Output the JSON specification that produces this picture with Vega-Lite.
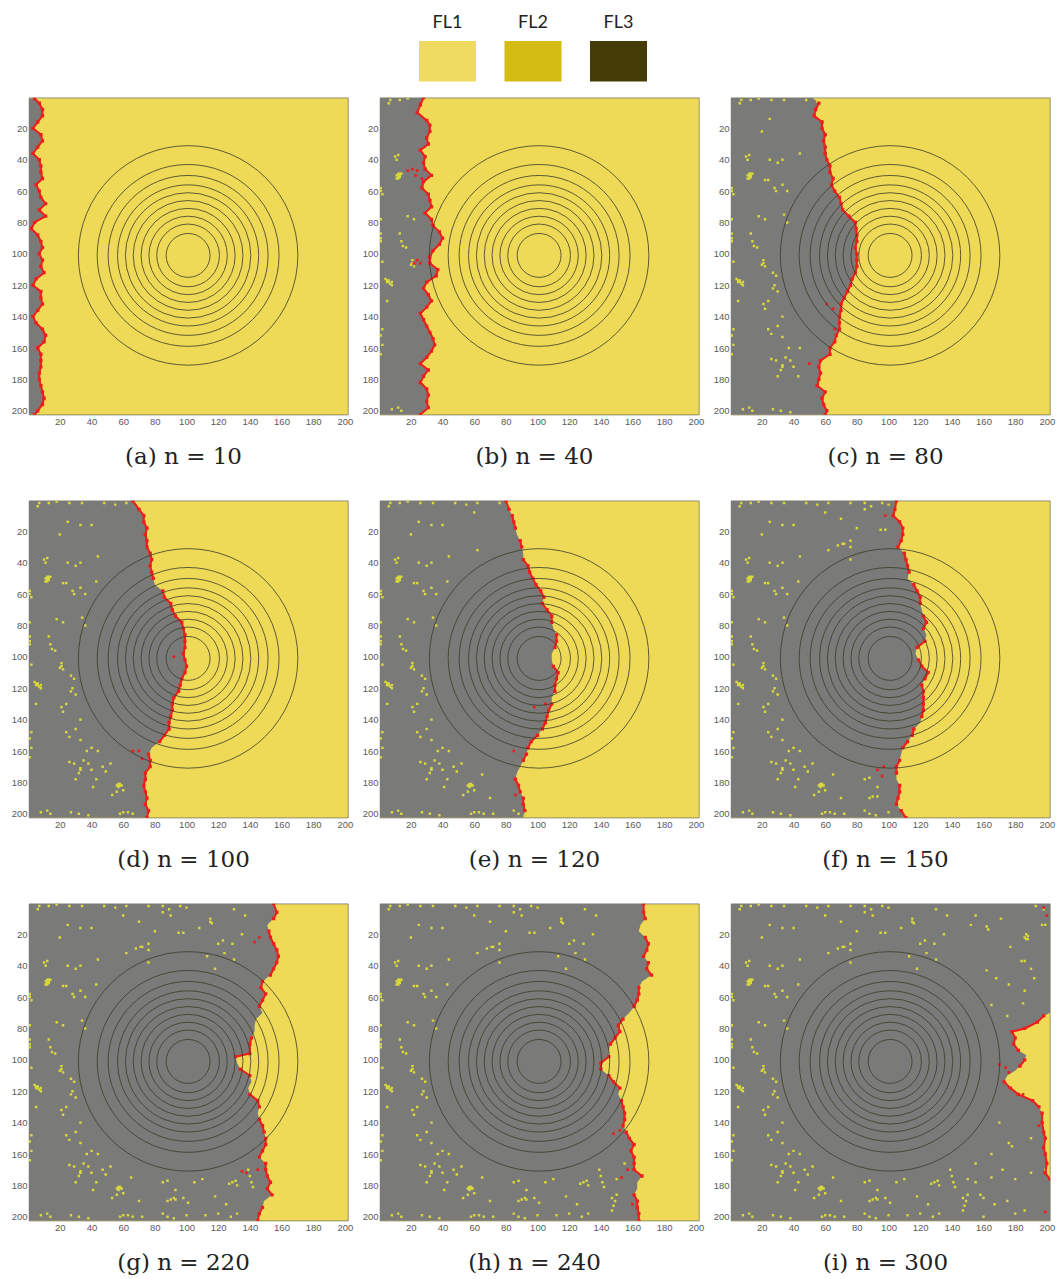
{"$schema":"https://vega.github.io/schema/vega-lite/v6.json","padding":{"left":10,"top":13,"right":0,"bottom":0},"background":"white","config":{"view":{"fill":"#EFDA58","stroke":"#6b6b5a","strokeWidth":0.7},"axis":{"grid":false,"ticks":false,"domain":false,"labelFont":"Liberation Sans","labelFontSize":9.5,"labelColor":"#5a5a5a","labelPadding":2,"titleFont":"DejaVu Serif","titleFontSize":23,"titleFontWeight":"normal","titleColor":"#222222"}},"datasets":{"rings":[{"x":101,"y":101,"r":70},{"x":101,"y":101,"r":58},{"x":101,"y":101,"r":51},{"x":101,"y":101,"r":45},{"x":101,"y":101,"r":40},{"x":101,"y":101,"r":35},{"x":101,"y":101,"r":30},{"x":101,"y":101,"r":25},{"x":101,"y":101,"r":20},{"x":101,"y":101,"r":14}],
"fa":[{"y":1,"x":4,"s":1},{"y":4,"x":7,"s":1},{"y":8,"x":9,"s":1},{"y":12,"x":9,"s":1},{"y":16,"x":6,"s":1},{"y":20,"x":3,"s":1},{"y":24,"x":8,"s":1},{"y":28,"x":9,"s":1},{"y":32,"x":6,"s":1},{"y":36,"x":3,"s":1},{"y":40,"x":7,"s":1},{"y":44,"x":8,"s":1},{"y":48,"x":8,"s":1},{"y":52,"x":9,"s":1},{"y":56,"x":5,"s":1},{"y":60,"x":7,"s":1},{"y":64,"x":8,"s":1},{"y":68,"x":11,"s":1},{"y":72,"x":7,"s":1},{"y":76,"x":11,"s":1},{"y":80,"x":4,"s":1},{"y":84,"x":2,"s":1},{"y":88,"x":6,"s":1},{"y":92,"x":8,"s":1},{"y":96,"x":9,"s":1},{"y":100,"x":7,"s":1},{"y":104,"x":9,"s":1},{"y":108,"x":8,"s":1},{"y":112,"x":10,"s":1},{"y":116,"x":5,"s":1},{"y":120,"x":3,"s":1},{"y":124,"x":8,"s":1},{"y":128,"x":8,"s":1},{"y":132,"x":9,"s":1},{"y":136,"x":6,"s":1},{"y":140,"x":3,"s":1},{"y":144,"x":5,"s":1},{"y":148,"x":9,"s":1},{"y":152,"x":11,"s":1},{"y":156,"x":10,"s":1},{"y":160,"x":6,"s":1},{"y":164,"x":8,"s":1},{"y":168,"x":8,"s":1},{"y":172,"x":8,"s":1},{"y":176,"x":7,"s":1},{"y":180,"x":7,"s":1},{"y":184,"x":8,"s":1},{"y":188,"x":9,"s":1},{"y":192,"x":10,"s":1},{"y":196,"x":9,"s":1},{"y":200,"x":6,"s":1},{"y":202.5,"x":4,"s":1}],
"fb":[{"y":0.5,"x":28,"s":1},{"y":5,"x":26,"s":1},{"y":10,"x":24,"s":1},{"y":15,"x":30,"s":1},{"y":18,"x":32,"s":1},{"y":22,"x":32,"s":1},{"y":26,"x":30,"s":1},{"y":30,"x":31,"s":1},{"y":34,"x":26,"s":1},{"y":38,"x":29,"s":1},{"y":42,"x":28,"s":1},{"y":46,"x":29,"s":1},{"y":50,"x":33,"s":1},{"y":54,"x":28,"s":1},{"y":58,"x":27,"s":1},{"y":62,"x":31,"s":1},{"y":66,"x":32,"s":1},{"y":70,"x":33,"s":1},{"y":74,"x":29,"s":1},{"y":78,"x":33,"s":1},{"y":82,"x":34,"s":1},{"y":86,"x":38,"s":1},{"y":90,"x":40,"s":1},{"y":94,"x":38,"s":1},{"y":98,"x":34,"s":1},{"y":102,"x":32,"s":1},{"y":106,"x":32,"s":1},{"y":110,"x":37,"s":1},{"y":114,"x":36,"s":1},{"y":118,"x":30,"s":1},{"y":122,"x":28,"s":1},{"y":126,"x":31,"s":1},{"y":130,"x":33,"s":1},{"y":134,"x":30,"s":1},{"y":138,"x":26,"s":1},{"y":142,"x":28,"s":1},{"y":146,"x":30,"s":1},{"y":150,"x":32,"s":1},{"y":154,"x":34,"s":1},{"y":158,"x":35,"s":1},{"y":162,"x":33,"s":1},{"y":166,"x":30,"s":1},{"y":170,"x":26,"s":1},{"y":174,"x":31,"s":1},{"y":178,"x":28,"s":1},{"y":182,"x":26,"s":1},{"y":186,"x":30,"s":1},{"y":190,"x":31,"s":1},{"y":194,"x":30,"s":1},{"y":198,"x":31,"s":1},{"y":202.5,"x":26,"s":1}],
"fc":[{"y":0.5,"x":52},{"y":4,"x":56,"s":1},{"y":8,"x":54,"s":1},{"y":12,"x":53,"s":1},{"y":16,"x":58,"s":1},{"y":20,"x":58,"s":1},{"y":24,"x":60,"s":1},{"y":28,"x":59,"s":1},{"y":32,"x":60,"s":1},{"y":36,"x":60,"s":1},{"y":40,"x":61,"s":1},{"y":44,"x":63,"s":1},{"y":48,"x":63,"s":1},{"y":52,"x":65,"s":1},{"y":56,"x":64,"s":1},{"y":60,"x":66,"s":1},{"y":64,"x":69,"s":1},{"y":68,"x":70,"s":1},{"y":72,"x":71,"s":1},{"y":76,"x":75,"s":1},{"y":80,"x":79,"s":1},{"y":84,"x":79.5,"s":1},{"y":88,"x":80,"s":1},{"y":92,"x":80,"s":1},{"y":96,"x":79,"s":1},{"y":100,"x":80,"s":1},{"y":104,"x":80,"s":1},{"y":108,"x":80,"s":1},{"y":112,"x":79,"s":1},{"y":116,"x":77,"s":1},{"y":120,"x":76,"s":1},{"y":124,"x":74,"s":1},{"y":128,"x":72,"s":1},{"y":132,"x":70,"s":1},{"y":136,"x":70,"s":1},{"y":140,"x":69,"s":1},{"y":144,"x":69,"s":1},{"y":148,"x":69,"s":1},{"y":152,"x":67,"s":1},{"y":156,"x":66,"s":1},{"y":160,"x":63,"s":1},{"y":164,"x":63,"s":1},{"y":168,"x":57,"s":1},{"y":172,"x":56,"s":1},{"y":176,"x":57,"s":1},{"y":180,"x":56,"s":1},{"y":184,"x":55,"s":1},{"y":188,"x":60,"s":1},{"y":192,"x":58,"s":1},{"y":196,"x":59,"s":1},{"y":200,"x":61,"s":1},{"y":202.5,"x":60,"s":1}],
"fd":[{"y":0.5,"x":66,"s":1},{"y":6,"x":70,"s":1},{"y":10,"x":73,"s":1},{"y":14,"x":73,"s":1},{"y":18,"x":75,"s":1},{"y":22,"x":74,"s":1},{"y":26,"x":75,"s":1},{"y":30,"x":75,"s":1},{"y":34,"x":77,"s":1},{"y":38,"x":78,"s":1},{"y":42,"x":77,"s":1},{"y":46,"x":78,"s":1},{"y":50,"x":79,"s":1},{"y":54,"x":80},{"y":58,"x":85,"s":2},{"y":62,"x":86,"s":2},{"y":66,"x":90,"s":2},{"y":70,"x":91,"s":2},{"y":74,"x":93,"s":2},{"y":78,"x":97,"s":2},{"y":82,"x":98,"s":2},{"y":86,"x":99,"s":2},{"y":90,"x":99,"s":2},{"y":94,"x":99,"s":2},{"y":98,"x":98,"s":2},{"y":102,"x":99,"s":2},{"y":106,"x":100,"s":2},{"y":110,"x":99,"s":2},{"y":114,"x":97,"s":2},{"y":118,"x":96,"s":2},{"y":122,"x":95,"s":2},{"y":126,"x":92,"s":2},{"y":130,"x":91,"s":2},{"y":134,"x":91,"s":2},{"y":138,"x":90,"s":2},{"y":142,"x":89,"s":2},{"y":146,"x":89,"s":2},{"y":150,"x":86,"s":2},{"y":154,"x":83,"s":2},{"y":158,"x":78},{"y":162,"x":76,"s":3},{"y":166,"x":77,"s":3},{"y":170,"x":77,"s":3},{"y":174,"x":74,"s":3},{"y":178,"x":74,"s":3},{"y":182,"x":73,"s":3},{"y":186,"x":74,"s":3},{"y":190,"x":75,"s":3},{"y":194,"x":74,"s":3},{"y":198,"x":76,"s":3},{"y":202.5,"x":75,"s":3}],
"fe":[{"y":0.5,"x":80,"s":1},{"y":6,"x":82,"s":1},{"y":10,"x":84,"s":2},{"y":14,"x":85,"s":2},{"y":18,"x":86,"s":2},{"y":22,"x":87},{"y":26,"x":89,"s":3},{"y":30,"x":90,"s":3},{"y":34,"x":91},{"y":38,"x":91,"s":4},{"y":42,"x":94,"s":4},{"y":46,"x":95,"s":4},{"y":50,"x":97,"s":4},{"y":54,"x":99,"s":4},{"y":58,"x":102,"s":4},{"y":62,"x":104,"s":4},{"y":66,"x":103,"s":5},{"y":70,"x":106,"s":5},{"y":74,"x":109,"s":5},{"y":78,"x":109,"s":5},{"y":82,"x":110},{"y":86,"x":112,"s":6},{"y":90,"x":112,"s":6},{"y":94,"x":111,"s":6},{"y":98,"x":109},{"y":102,"x":109},{"y":106,"x":110,"s":7},{"y":110,"x":113,"s":7},{"y":114,"x":112,"s":7},{"y":118,"x":111,"s":7},{"y":122,"x":111,"s":7},{"y":126,"x":109},{"y":130,"x":109,"s":8},{"y":134,"x":107,"s":8},{"y":138,"x":106,"s":8},{"y":142,"x":105,"s":8},{"y":146,"x":103,"s":8},{"y":150,"x":100,"s":9},{"y":154,"x":96,"s":9},{"y":158,"x":94,"s":9},{"y":162,"x":93,"s":10},{"y":166,"x":91,"s":10},{"y":170,"x":89},{"y":174,"x":87},{"y":178,"x":86,"s":11},{"y":182,"x":88,"s":11},{"y":186,"x":89,"s":11},{"y":190,"x":91,"s":12},{"y":194,"x":91,"s":12},{"y":198,"x":92,"s":12},{"y":202.5,"x":91}],
"ff":[{"y":0.5,"x":105,"s":1},{"y":6,"x":104,"s":1},{"y":10,"x":103,"s":1},{"y":14,"x":107,"s":1},{"y":18,"x":109,"s":1},{"y":22,"x":109,"s":1},{"y":26,"x":108,"s":1},{"y":30,"x":106,"s":1},{"y":34,"x":110,"s":2},{"y":38,"x":111,"s":2},{"y":42,"x":112,"s":2},{"y":46,"x":113,"s":2},{"y":50,"x":112},{"y":54,"x":116,"s":3},{"y":58,"x":118,"s":3},{"y":62,"x":120,"s":3},{"y":66,"x":120,"s":3},{"y":70,"x":121},{"y":74,"x":122,"s":4},{"y":78,"x":124,"s":4},{"y":82,"x":122,"s":4},{"y":86,"x":124},{"y":90,"x":123,"s":5},{"y":94,"x":118,"s":5},{"y":98,"x":117},{"y":102,"x":119,"s":6},{"y":106,"x":121,"s":6},{"y":110,"x":125,"s":6},{"y":114,"x":123,"s":6},{"y":118,"x":121,"s":7},{"y":122,"x":122,"s":7},{"y":126,"x":122,"s":7},{"y":130,"x":122,"s":7},{"y":134,"x":122,"s":7},{"y":138,"x":121,"s":7},{"y":142,"x":120},{"y":146,"x":116,"s":8},{"y":150,"x":115,"s":8},{"y":154,"x":112,"s":9},{"y":158,"x":109,"s":9},{"y":162,"x":108},{"y":166,"x":107,"s":10},{"y":170,"x":105,"s":10},{"y":174,"x":105,"s":10},{"y":178,"x":105},{"y":182,"x":107,"s":11},{"y":186,"x":107,"s":11},{"y":190,"x":106,"s":11},{"y":194,"x":105,"s":11},{"y":198,"x":108,"s":12},{"y":202.5,"x":111,"s":12}],
"fg":[{"y":0.5,"x":155,"s":1},{"y":6,"x":157,"s":1},{"y":10,"x":155,"s":1},{"y":14,"x":151},{"y":18,"x":152,"s":2},{"y":22,"x":153,"s":2},{"y":26,"x":155,"s":2},{"y":30,"x":157,"s":2},{"y":34,"x":158,"s":2},{"y":38,"x":157,"s":2},{"y":42,"x":155,"s":2},{"y":46,"x":153,"s":2},{"y":50,"x":148,"s":3},{"y":54,"x":147,"s":3},{"y":58,"x":150,"s":3},{"y":62,"x":148,"s":3},{"y":66,"x":146,"s":3},{"y":70,"x":148},{"y":74,"x":144},{"y":78,"x":143},{"y":82,"x":143},{"y":86,"x":141,"s":4},{"y":90,"x":140,"s":4},{"y":96,"x":140,"s":4},{"y":98,"x":131,"s":4},{"y":102,"x":132},{"y":106,"x":134,"s":5},{"y":110,"x":140,"s":5},{"y":114,"x":141},{"y":118,"x":139},{"y":122,"x":140,"s":6},{"y":126,"x":145,"s":6},{"y":130,"x":146,"s":6},{"y":134,"x":145},{"y":138,"x":146,"s":7},{"y":142,"x":148,"s":7},{"y":146,"x":149,"s":7},{"y":150,"x":150,"s":8},{"y":154,"x":150,"s":8},{"y":158,"x":148,"s":8},{"y":162,"x":146,"s":8},{"y":166,"x":150,"s":9},{"y":170,"x":150,"s":9},{"y":174,"x":151,"s":9},{"y":178,"x":153,"s":9},{"y":182,"x":151,"s":9},{"y":186,"x":154,"s":9},{"y":190,"x":149},{"y":194,"x":148,"s":10},{"y":198,"x":146,"s":10},{"y":202.5,"x":145,"s":10}],
"fh":[{"y":0.5,"x":167,"s":1},{"y":6,"x":167,"s":1},{"y":10,"x":168,"s":1},{"y":14,"x":165},{"y":18,"x":164},{"y":22,"x":168,"s":2},{"y":26,"x":170,"s":2},{"y":30,"x":169,"s":2},{"y":34,"x":167,"s":2},{"y":38,"x":170,"s":3},{"y":42,"x":169,"s":3},{"y":46,"x":172,"s":3},{"y":50,"x":166},{"y":54,"x":164,"s":4},{"y":58,"x":164,"s":4},{"y":62,"x":163,"s":4},{"y":66,"x":161,"s":4},{"y":70,"x":158},{"y":74,"x":154,"s":5},{"y":78,"x":151,"s":5},{"y":82,"x":152,"s":5},{"y":86,"x":149,"s":5},{"y":90,"x":146,"s":5},{"y":94,"x":145},{"y":98,"x":145,"s":6},{"y":102,"x":140,"s":6},{"y":106,"x":140,"s":6},{"y":110,"x":145,"s":7},{"y":114,"x":148,"s":7},{"y":118,"x":152,"s":7},{"y":122,"x":151},{"y":126,"x":153,"s":8},{"y":130,"x":154,"s":8},{"y":134,"x":155,"s":8},{"y":138,"x":155,"s":8},{"y":142,"x":154,"s":8},{"y":146,"x":156,"s":9},{"y":150,"x":158,"s":9},{"y":154,"x":161,"s":9},{"y":158,"x":159,"s":9},{"y":162,"x":161,"s":9},{"y":166,"x":161,"s":9},{"y":170,"x":161,"s":9},{"y":174,"x":166,"s":9},{"y":178,"x":163},{"y":182,"x":163},{"y":186,"x":161,"s":10},{"y":190,"x":163,"s":10},{"y":194,"x":163,"s":10},{"y":198,"x":164,"s":10},{"y":202.5,"x":164,"s":10}],
"fi":[{"y":0.5,"x":202},{"y":70,"x":202},{"y":72,"x":198,"s":1},{"y":76,"x":194,"s":1},{"y":80,"x":186,"s":1},{"y":82,"x":178,"s":1},{"y":86,"x":180,"s":1},{"y":90,"x":179,"s":1},{"y":94,"x":182,"s":1},{"y":97,"x":187},{"y":100,"x":186,"s":2},{"y":104,"x":183,"s":2},{"y":107,"x":180},{"y":110,"x":175},{"y":114,"x":173,"s":3},{"y":118,"x":177,"s":3},{"y":122,"x":182,"s":3},{"y":126,"x":191,"s":3},{"y":130,"x":195,"s":3},{"y":134,"x":197,"s":4},{"y":140,"x":197,"s":4},{"y":146,"x":198,"s":4},{"y":150,"x":199,"s":4},{"y":156,"x":198,"s":4},{"y":160,"x":199,"s":4},{"y":166,"x":200,"s":4},{"y":172,"x":199,"s":4},{"y":176,"x":202,"s":4},{"y":202.5,"x":202}],
"reds":[{"p":"b","x":21,"y":46},{"p":"b","x":24,"y":47},{"p":"b","x":18,"y":47},{"p":"b","x":23,"y":50},{"p":"b","x":27,"y":52},{"p":"b","x":22,"y":106},{"p":"b","x":24,"y":104},{"p":"b","x":26,"y":106},{"p":"c","x":61,"y":132},{"p":"c","x":65,"y":135},{"p":"c","x":50,"y":170},{"p":"c","x":66,"y":148},{"p":"d","x":72,"y":165},{"p":"d","x":70,"y":160},{"p":"d","x":66,"y":160},{"p":"d","x":92,"y":100},{"p":"e","x":85,"y":160},{"p":"e","x":86,"y":188},{"p":"e","x":98,"y":132},{"p":"e","x":105,"y":130},{"p":"f","x":98,"y":10},{"p":"f","x":93,"y":172},{"p":"f","x":97,"y":170},{"p":"f","x":96,"y":176},{"p":"g","x":143,"y":25},{"p":"g","x":146,"y":22},{"p":"g","x":135,"y":171},{"p":"g","x":138,"y":172},{"p":"g","x":145,"y":170},{"p":"h","x":148,"y":147},{"p":"h","x":152,"y":145},{"p":"h","x":153,"y":175},{"p":"h","x":157,"y":170},{"p":"h","x":160,"y":192},{"p":"i","x":176,"y":108},{"p":"i","x":174,"y":105},{"p":"i","x":170,"y":103},{"p":"i","x":198,"y":3},{"p":"i","x":200,"y":8},{"p":"i","x":195,"y":142},{"p":"i","x":199,"y":197},{"p":"i","x":185,"y":122}],
"specks":[{"x":12,"y":49,"f":2},{"x":13,"y":49,"f":2},{"x":14,"y":49,"f":2},{"x":11,"y":50,"f":2},{"x":12,"y":50,"f":2},{"x":13,"y":50,"f":2},{"x":12,"y":51,"f":2},{"x":13,"y":51,"f":2},{"x":12,"y":52,"f":2},{"x":11,"y":52,"f":2},{"x":4,"y":116,"f":2},{"x":5,"y":117,"f":2},{"x":6,"y":117,"f":2},{"x":5,"y":118,"f":2},{"x":6,"y":118,"f":2},{"x":7,"y":119,"f":2},{"x":8,"y":120,"f":2},{"x":8,"y":118,"f":2},{"x":21,"y":104,"f":2},{"x":21,"y":106,"f":2},{"x":22,"y":108,"f":2},{"x":20,"y":107,"f":2},{"x":27,"y":112,"f":3},{"x":29,"y":114,"f":3},{"x":1,"y":58,"f":2},{"x":1,"y":60,"f":2},{"x":2,"y":62,"f":2},{"x":1,"y":87,"f":2},{"x":1,"y":90,"f":2},{"x":1,"y":92,"f":2},{"x":2,"y":105,"f":2},{"x":2,"y":148,"f":2},{"x":1,"y":152,"f":2},{"x":2,"y":158,"f":2},{"x":1,"y":164,"f":2},{"x":1,"y":78,"f":2},{"x":22,"y":53,"f":3},{"x":24,"y":53,"f":3},{"x":28,"y":58,"f":3},{"x":29,"y":60,"f":3},{"x":33,"y":56,"f":3},{"x":36,"y":60,"f":3},{"x":43,"y":52,"f":4},{"x":14,"y":92,"f":2},{"x":15,"y":95,"f":2},{"x":17,"y":96,"f":2},{"x":13,"y":87,"f":2},{"x":18,"y":76,"f":2},{"x":22,"y":78,"f":2},{"x":36,"y":80,"f":3},{"x":34,"y":75,"f":3},{"x":25,"y":40,"f":3},{"x":30,"y":42,"f":3},{"x":33,"y":40,"f":3},{"x":10,"y":38,"f":2},{"x":11,"y":40,"f":2},{"x":12,"y":37,"f":2},{"x":21,"y":132,"f":3},{"x":24,"y":130,"f":3},{"x":22,"y":135,"f":3},{"x":27,"y":122,"f":3},{"x":30,"y":124,"f":3},{"x":28,"y":120,"f":3},{"x":5,"y":130,"f":2},{"x":33,"y":140,"f":3},{"x":24,"y":148,"f":3},{"x":26,"y":151,"f":3},{"x":30,"y":146,"f":3},{"x":33,"y":153,"f":3},{"x":37,"y":160,"f":3},{"x":44,"y":160,"f":3},{"x":40,"y":158,"f":4},{"x":26,"y":167,"f":3},{"x":29,"y":168,"f":3},{"x":35,"y":166,"f":3},{"x":38,"y":168,"f":3},{"x":40,"y":172,"f":3},{"x":33,"y":171,"f":3},{"x":32,"y":174,"f":3},{"x":33,"y":172,"f":3},{"x":30,"y":178,"f":3},{"x":43,"y":178,"f":3},{"x":41,"y":183,"f":4},{"x":47,"y":170,"f":4},{"x":49,"y":173,"f":4},{"x":52,"y":168,"f":4},{"x":57,"y":181,"f":4},{"x":58,"y":181,"f":4},{"x":56,"y":182,"f":4},{"x":57,"y":182,"f":4},{"x":58,"y":182,"f":4},{"x":59,"y":182,"f":4},{"x":57,"y":183,"f":4},{"x":53,"y":188,"f":4},{"x":56,"y":186,"f":4},{"x":60,"y":185,"f":4},{"x":7,"y":2,"f":2},{"x":6,"y":4,"f":2},{"x":13,"y":2,"f":2},{"x":18,"y":1,"f":2},{"x":26,"y":2,"f":3},{"x":34,"y":2,"f":3},{"x":48,"y":2,"f":3},{"x":55,"y":3,"f":3},{"x":62,"y":2,"f":4},{"x":76,"y":2,"f":5},{"x":85,"y":2,"f":6},{"x":96,"y":2,"f":6},{"x":100,"y":3,"f":6},{"x":8,"y":199,"f":2},{"x":12,"y":198,"f":2},{"x":14,"y":200,"f":2},{"x":27,"y":199,"f":3},{"x":32,"y":200,"f":3},{"x":38,"y":201,"f":3},{"x":58,"y":200,"f":4},{"x":60,"y":199,"f":4},{"x":63,"y":199,"f":4},{"x":66,"y":200,"f":4},{"x":85,"y":198,"f":5},{"x":88,"y":200,"f":5},{"x":92,"y":201,"f":5},{"x":100,"y":199,"f":6},{"x":112,"y":199,"f":7},{"x":128,"y":200,"f":7},{"x":132,"y":198,"f":7},{"x":68,"y":29,"f":6},{"x":71,"y":28,"f":6},{"x":72,"y":28,"f":6},{"x":76,"y":26,"f":6},{"x":76,"y":30,"f":6},{"x":80,"y":18,"f":6},{"x":95,"y":19,"f":6},{"x":98,"y":19,"f":6},{"x":85,"y":6,"f":6},{"x":89,"y":4,"f":6},{"x":70,"y":12,"f":6},{"x":40,"y":16,"f":4},{"x":20,"y":22,"f":3},{"x":25,"y":14,"f":3},{"x":44,"y":36,"f":3},{"x":60,"y":8,"f":5},{"x":33,"y":16,"f":4},{"x":76,"y":38,"f":6},{"x":62,"y":32,"f":5},{"x":90,"y":8,"f":7},{"x":115,"y":10,"f":7},{"x":115,"y":12,"f":7},{"x":116,"y":13,"f":7},{"x":108,"y":16,"f":7},{"x":120,"y":26,"f":7},{"x":123,"y":24,"f":7},{"x":129,"y":26,"f":7},{"x":113,"y":34,"f":7},{"x":124,"y":32,"f":7},{"x":135,"y":20,"f":7},{"x":130,"y":36,"f":7},{"x":137,"y":8,"f":7},{"x":130,"y":4,"f":7},{"x":118,"y":42,"f":7},{"x":85,"y":178,"f":6},{"x":88,"y":177,"f":6},{"x":93,"y":183,"f":6},{"x":92,"y":188,"f":7},{"x":90,"y":189,"f":6},{"x":93,"y":189,"f":6},{"x":88,"y":190,"f":6},{"x":98,"y":188,"f":7},{"x":101,"y":191,"f":7},{"x":105,"y":178,"f":7},{"x":110,"y":176,"f":7},{"x":127,"y":179,"f":7},{"x":129,"y":178,"f":7},{"x":131,"y":177,"f":7},{"x":132,"y":180,"f":7},{"x":118,"y":187,"f":7},{"x":120,"y":198,"f":7},{"x":125,"y":192,"f":7},{"x":65,"y":175,"f":5},{"x":70,"y":190,"f":5},{"x":72,"y":200,"f":5},{"x":139,"y":170,"f":7},{"x":140,"y":174,"f":7},{"x":141,"y":178,"f":7},{"x":142,"y":181,"f":7},{"x":147,"y":196,"f":8},{"x":148,"y":193,"f":8},{"x":149,"y":190,"f":8},{"x":147,"y":188,"f":8},{"x":150,"y":186,"f":8},{"x":150,"y":176,"f":8},{"x":155,"y":166,"f":8},{"x":160,"y":200,"f":9},{"x":152,"y":14,"f":9},{"x":162,"y":15,"f":9},{"x":163,"y":17,"f":9},{"x":171,"y":10,"f":9},{"x":155,"y":8,"f":9},{"x":187,"y":20,"f":9},{"x":188,"y":21,"f":9},{"x":186,"y":22,"f":9},{"x":187,"y":23,"f":9},{"x":188,"y":23,"f":9},{"x":197,"y":14,"f":9},{"x":199,"y":14,"f":9},{"x":198,"y":4,"f":9},{"x":193,"y":2,"f":9},{"x":184,"y":37,"f":9},{"x":186,"y":37,"f":9},{"x":177,"y":28,"f":9},{"x":162,"y":43,"f":9},{"x":168,"y":48,"f":9},{"x":176,"y":52,"f":9},{"x":186,"y":56,"f":9},{"x":185,"y":64,"f":9},{"x":190,"y":42,"f":9},{"x":192,"y":48,"f":9},{"x":175,"y":72,"f":9},{"x":165,"y":65,"f":9},{"x":178,"y":155,"f":9},{"x":176,"y":153,"f":9},{"x":165,"y":160,"f":9},{"x":172,"y":170,"f":9},{"x":180,"y":176,"f":9},{"x":190,"y":172,"f":9},{"x":158,"y":186,"f":9},{"x":160,"y":188,"f":9},{"x":167,"y":192,"f":9},{"x":175,"y":190,"f":9},{"x":180,"y":198,"f":9},{"x":186,"y":196,"f":9},{"x":199,"y":170,"f":9},{"x":200,"y":172,"f":9},{"x":199,"y":150,"f":9},{"x":190,"y":150,"f":9},{"x":170,"y":140,"f":9},{"x":165,"y":175,"f":9},{"x":155,"y":178,"f":9}]},
"bounds":"flush","spacing":15.7,"vconcat":[
{"width":1021,"height":40.5,"view":{"fill":null,"stroke":null},"data":{"values":[{"name":"FL1"},{"name":"FL2"},{"name":"FL3"}]},"mark":{"type":"rect"},"encoding":{"x":{"field":"name","type":"nominal","scale":{"range":[390,618],"paddingInner":0.333,"paddingOuter":0},"axis":{"orient":"top","title":null,"labelFont":"Lato","labelFontSize":18,"labelColor":"#222222","labelAngle":0,"labelPadding":10}},"color":{"field":"name","type":"nominal","scale":{"domain":["FL1","FL2","FL3"],"range":["#EFDB60","#D3BC13","#463C07"]},"legend":null}}},
{"columns":3,"bounds":"flush","spacing":{"row":86,"column":32},"concat":[
{"width":319,"height":317,"encoding":{"x":{"field":"x","type":"quantitative","scale":{"domain":[0.5,202]},"axis":{"values":[20,40,60,80,100,120,140,160,180,200],"title":"(a) n = 10","titleX":154,"titleY":49,"titleBaseline":"alphabetic"}},"y":{"field":"y","type":"quantitative","scale":{"domain":[0.5,202.5],"reverse":true},"axis":{"values":[20,40,60,80,100,120,140,160,180,200],"title":null}}},"layer":[{"data":{"name":"fa"},"mark":{"type":"area","orient":"horizontal","color":"#7A7A78","opacity":1,"clip":true}},{"data":{"name":"specks"},"transform":[{"filter":"datum.f<=1"}],"mark":{"type":"square","color":"#D8D83C","size":6,"opacity":1,"clip":true}},{"data":{"name":"fa"},"transform":[{"filter":"isValid(datum.s)"}],"mark":{"type":"line","color":"#EE1C1C","strokeWidth":2,"clip":true},"encoding":{"detail":{"field":"s"},"order":{"field":"y","type":"quantitative"}}},{"data":{"name":"fa"},"transform":[{"filter":"isValid(datum.s)"}],"mark":{"type":"square","color":"#EE1C1C","size":11,"opacity":1,"clip":true}},{"data":{"name":"reds"},"transform":[{"filter":"datum.p=='a'"}],"mark":{"type":"square","color":"#EE1C1C","size":7,"opacity":1}},{"data":{"name":"rings"},"mark":{"type":"point","shape":"circle","filled":false,"stroke":"#3c3c28","strokeWidth":1,"opacity":0.8},"encoding":{"size":{"field":"r","type":"quantitative","scale":{"type":"pow","exponent":2,"domain":[0,70],"range":[0,48180]},"legend":null}}}]},
{"width":319,"height":317,"encoding":{"x":{"field":"x","type":"quantitative","scale":{"domain":[0.5,202]},"axis":{"values":[20,40,60,80,100,120,140,160,180,200],"title":"(b) n = 40","titleX":154,"titleY":49,"titleBaseline":"alphabetic"}},"y":{"field":"y","type":"quantitative","scale":{"domain":[0.5,202.5],"reverse":true},"axis":{"values":[20,40,60,80,100,120,140,160,180,200],"title":null}}},"layer":[{"data":{"name":"fb"},"mark":{"type":"area","orient":"horizontal","color":"#7A7A78","opacity":1,"clip":true}},{"data":{"name":"specks"},"transform":[{"filter":"datum.f<=2"}],"mark":{"type":"square","color":"#D8D83C","size":6,"opacity":1,"clip":true}},{"data":{"name":"fb"},"transform":[{"filter":"isValid(datum.s)"}],"mark":{"type":"line","color":"#EE1C1C","strokeWidth":2,"clip":true},"encoding":{"detail":{"field":"s"},"order":{"field":"y","type":"quantitative"}}},{"data":{"name":"fb"},"transform":[{"filter":"isValid(datum.s)"}],"mark":{"type":"square","color":"#EE1C1C","size":11,"opacity":1,"clip":true}},{"data":{"name":"reds"},"transform":[{"filter":"datum.p=='b'"}],"mark":{"type":"square","color":"#EE1C1C","size":7,"opacity":1}},{"data":{"name":"rings"},"mark":{"type":"point","shape":"circle","filled":false,"stroke":"#3c3c28","strokeWidth":1,"opacity":0.8},"encoding":{"size":{"field":"r","type":"quantitative","scale":{"type":"pow","exponent":2,"domain":[0,70],"range":[0,48180]},"legend":null}}}]},
{"width":319,"height":317,"encoding":{"x":{"field":"x","type":"quantitative","scale":{"domain":[0.5,202]},"axis":{"values":[20,40,60,80,100,120,140,160,180,200],"title":"(c) n = 80","titleX":154,"titleY":49,"titleBaseline":"alphabetic"}},"y":{"field":"y","type":"quantitative","scale":{"domain":[0.5,202.5],"reverse":true},"axis":{"values":[20,40,60,80,100,120,140,160,180,200],"title":null}}},"layer":[{"data":{"name":"fc"},"mark":{"type":"area","orient":"horizontal","color":"#7A7A78","opacity":1,"clip":true}},{"data":{"name":"specks"},"transform":[{"filter":"datum.f<=3"}],"mark":{"type":"square","color":"#D8D83C","size":6,"opacity":1,"clip":true}},{"data":{"name":"fc"},"transform":[{"filter":"isValid(datum.s)"}],"mark":{"type":"line","color":"#EE1C1C","strokeWidth":2,"clip":true},"encoding":{"detail":{"field":"s"},"order":{"field":"y","type":"quantitative"}}},{"data":{"name":"fc"},"transform":[{"filter":"isValid(datum.s)"}],"mark":{"type":"square","color":"#EE1C1C","size":11,"opacity":1,"clip":true}},{"data":{"name":"reds"},"transform":[{"filter":"datum.p=='c'"}],"mark":{"type":"square","color":"#EE1C1C","size":7,"opacity":1}},{"data":{"name":"rings"},"mark":{"type":"point","shape":"circle","filled":false,"stroke":"#3c3c28","strokeWidth":1,"opacity":0.8},"encoding":{"size":{"field":"r","type":"quantitative","scale":{"type":"pow","exponent":2,"domain":[0,70],"range":[0,48180]},"legend":null}}}]},
{"width":319,"height":317,"encoding":{"x":{"field":"x","type":"quantitative","scale":{"domain":[0.5,202]},"axis":{"values":[20,40,60,80,100,120,140,160,180,200],"title":"(d) n = 100","titleX":154,"titleY":49,"titleBaseline":"alphabetic"}},"y":{"field":"y","type":"quantitative","scale":{"domain":[0.5,202.5],"reverse":true},"axis":{"values":[20,40,60,80,100,120,140,160,180,200],"title":null}}},"layer":[{"data":{"name":"fd"},"mark":{"type":"area","orient":"horizontal","color":"#7A7A78","opacity":1,"clip":true}},{"data":{"name":"specks"},"transform":[{"filter":"datum.f<=4"}],"mark":{"type":"square","color":"#D8D83C","size":6,"opacity":1,"clip":true}},{"data":{"name":"fd"},"transform":[{"filter":"isValid(datum.s)"}],"mark":{"type":"line","color":"#EE1C1C","strokeWidth":2,"clip":true},"encoding":{"detail":{"field":"s"},"order":{"field":"y","type":"quantitative"}}},{"data":{"name":"fd"},"transform":[{"filter":"isValid(datum.s)"}],"mark":{"type":"square","color":"#EE1C1C","size":11,"opacity":1,"clip":true}},{"data":{"name":"reds"},"transform":[{"filter":"datum.p=='d'"}],"mark":{"type":"square","color":"#EE1C1C","size":7,"opacity":1}},{"data":{"name":"rings"},"mark":{"type":"point","shape":"circle","filled":false,"stroke":"#3c3c28","strokeWidth":1,"opacity":0.8},"encoding":{"size":{"field":"r","type":"quantitative","scale":{"type":"pow","exponent":2,"domain":[0,70],"range":[0,48180]},"legend":null}}}]},
{"width":319,"height":317,"encoding":{"x":{"field":"x","type":"quantitative","scale":{"domain":[0.5,202]},"axis":{"values":[20,40,60,80,100,120,140,160,180,200],"title":"(e) n = 120","titleX":154,"titleY":49,"titleBaseline":"alphabetic"}},"y":{"field":"y","type":"quantitative","scale":{"domain":[0.5,202.5],"reverse":true},"axis":{"values":[20,40,60,80,100,120,140,160,180,200],"title":null}}},"layer":[{"data":{"name":"fe"},"mark":{"type":"area","orient":"horizontal","color":"#7A7A78","opacity":1,"clip":true}},{"data":{"name":"specks"},"transform":[{"filter":"datum.f<=5"}],"mark":{"type":"square","color":"#D8D83C","size":6,"opacity":1,"clip":true}},{"data":{"name":"fe"},"transform":[{"filter":"isValid(datum.s)"}],"mark":{"type":"line","color":"#EE1C1C","strokeWidth":2,"clip":true},"encoding":{"detail":{"field":"s"},"order":{"field":"y","type":"quantitative"}}},{"data":{"name":"fe"},"transform":[{"filter":"isValid(datum.s)"}],"mark":{"type":"square","color":"#EE1C1C","size":11,"opacity":1,"clip":true}},{"data":{"name":"reds"},"transform":[{"filter":"datum.p=='e'"}],"mark":{"type":"square","color":"#EE1C1C","size":7,"opacity":1}},{"data":{"name":"rings"},"mark":{"type":"point","shape":"circle","filled":false,"stroke":"#3c3c28","strokeWidth":1,"opacity":0.8},"encoding":{"size":{"field":"r","type":"quantitative","scale":{"type":"pow","exponent":2,"domain":[0,70],"range":[0,48180]},"legend":null}}}]},
{"width":319,"height":317,"encoding":{"x":{"field":"x","type":"quantitative","scale":{"domain":[0.5,202]},"axis":{"values":[20,40,60,80,100,120,140,160,180,200],"title":"(f) n = 150","titleX":154,"titleY":49,"titleBaseline":"alphabetic"}},"y":{"field":"y","type":"quantitative","scale":{"domain":[0.5,202.5],"reverse":true},"axis":{"values":[20,40,60,80,100,120,140,160,180,200],"title":null}}},"layer":[{"data":{"name":"ff"},"mark":{"type":"area","orient":"horizontal","color":"#7A7A78","opacity":1,"clip":true}},{"data":{"name":"specks"},"transform":[{"filter":"datum.f<=6"}],"mark":{"type":"square","color":"#D8D83C","size":6,"opacity":1,"clip":true}},{"data":{"name":"ff"},"transform":[{"filter":"isValid(datum.s)"}],"mark":{"type":"line","color":"#EE1C1C","strokeWidth":2,"clip":true},"encoding":{"detail":{"field":"s"},"order":{"field":"y","type":"quantitative"}}},{"data":{"name":"ff"},"transform":[{"filter":"isValid(datum.s)"}],"mark":{"type":"square","color":"#EE1C1C","size":11,"opacity":1,"clip":true}},{"data":{"name":"reds"},"transform":[{"filter":"datum.p=='f'"}],"mark":{"type":"square","color":"#EE1C1C","size":7,"opacity":1}},{"data":{"name":"rings"},"mark":{"type":"point","shape":"circle","filled":false,"stroke":"#3c3c28","strokeWidth":1,"opacity":0.8},"encoding":{"size":{"field":"r","type":"quantitative","scale":{"type":"pow","exponent":2,"domain":[0,70],"range":[0,48180]},"legend":null}}}]},
{"width":319,"height":317,"encoding":{"x":{"field":"x","type":"quantitative","scale":{"domain":[0.5,202]},"axis":{"values":[20,40,60,80,100,120,140,160,180,200],"title":"(g) n = 220","titleX":154,"titleY":49,"titleBaseline":"alphabetic"}},"y":{"field":"y","type":"quantitative","scale":{"domain":[0.5,202.5],"reverse":true},"axis":{"values":[20,40,60,80,100,120,140,160,180,200],"title":null}}},"layer":[{"data":{"name":"fg"},"mark":{"type":"area","orient":"horizontal","color":"#7A7A78","opacity":1,"clip":true}},{"data":{"name":"specks"},"transform":[{"filter":"datum.f<=7"}],"mark":{"type":"square","color":"#D8D83C","size":6,"opacity":1,"clip":true}},{"data":{"name":"fg"},"transform":[{"filter":"isValid(datum.s)"}],"mark":{"type":"line","color":"#EE1C1C","strokeWidth":2,"clip":true},"encoding":{"detail":{"field":"s"},"order":{"field":"y","type":"quantitative"}}},{"data":{"name":"fg"},"transform":[{"filter":"isValid(datum.s)"}],"mark":{"type":"square","color":"#EE1C1C","size":11,"opacity":1,"clip":true}},{"data":{"name":"reds"},"transform":[{"filter":"datum.p=='g'"}],"mark":{"type":"square","color":"#EE1C1C","size":7,"opacity":1}},{"data":{"name":"rings"},"mark":{"type":"point","shape":"circle","filled":false,"stroke":"#3c3c28","strokeWidth":1,"opacity":0.8},"encoding":{"size":{"field":"r","type":"quantitative","scale":{"type":"pow","exponent":2,"domain":[0,70],"range":[0,48180]},"legend":null}}}]},
{"width":319,"height":317,"encoding":{"x":{"field":"x","type":"quantitative","scale":{"domain":[0.5,202]},"axis":{"values":[20,40,60,80,100,120,140,160,180,200],"title":"(h) n = 240","titleX":154,"titleY":49,"titleBaseline":"alphabetic"}},"y":{"field":"y","type":"quantitative","scale":{"domain":[0.5,202.5],"reverse":true},"axis":{"values":[20,40,60,80,100,120,140,160,180,200],"title":null}}},"layer":[{"data":{"name":"fh"},"mark":{"type":"area","orient":"horizontal","color":"#7A7A78","opacity":1,"clip":true}},{"data":{"name":"specks"},"transform":[{"filter":"datum.f<=8"}],"mark":{"type":"square","color":"#D8D83C","size":6,"opacity":1,"clip":true}},{"data":{"name":"fh"},"transform":[{"filter":"isValid(datum.s)"}],"mark":{"type":"line","color":"#EE1C1C","strokeWidth":2,"clip":true},"encoding":{"detail":{"field":"s"},"order":{"field":"y","type":"quantitative"}}},{"data":{"name":"fh"},"transform":[{"filter":"isValid(datum.s)"}],"mark":{"type":"square","color":"#EE1C1C","size":11,"opacity":1,"clip":true}},{"data":{"name":"reds"},"transform":[{"filter":"datum.p=='h'"}],"mark":{"type":"square","color":"#EE1C1C","size":7,"opacity":1}},{"data":{"name":"rings"},"mark":{"type":"point","shape":"circle","filled":false,"stroke":"#3c3c28","strokeWidth":1,"opacity":0.8},"encoding":{"size":{"field":"r","type":"quantitative","scale":{"type":"pow","exponent":2,"domain":[0,70],"range":[0,48180]},"legend":null}}}]},
{"width":319,"height":317,"encoding":{"x":{"field":"x","type":"quantitative","scale":{"domain":[0.5,202]},"axis":{"values":[20,40,60,80,100,120,140,160,180,200],"title":"(i) n = 300","titleX":154,"titleY":49,"titleBaseline":"alphabetic"}},"y":{"field":"y","type":"quantitative","scale":{"domain":[0.5,202.5],"reverse":true},"axis":{"values":[20,40,60,80,100,120,140,160,180,200],"title":null}}},"layer":[{"data":{"name":"fi"},"mark":{"type":"area","orient":"horizontal","color":"#7A7A78","opacity":1,"clip":true}},{"data":{"name":"specks"},"transform":[{"filter":"datum.f<=9"}],"mark":{"type":"square","color":"#D8D83C","size":6,"opacity":1,"clip":true}},{"data":{"name":"fi"},"transform":[{"filter":"isValid(datum.s)"}],"mark":{"type":"line","color":"#EE1C1C","strokeWidth":2,"clip":true},"encoding":{"detail":{"field":"s"},"order":{"field":"y","type":"quantitative"}}},{"data":{"name":"fi"},"transform":[{"filter":"isValid(datum.s)"}],"mark":{"type":"square","color":"#EE1C1C","size":11,"opacity":1,"clip":true}},{"data":{"name":"reds"},"transform":[{"filter":"datum.p=='i'"}],"mark":{"type":"square","color":"#EE1C1C","size":7,"opacity":1}},{"data":{"name":"rings"},"mark":{"type":"point","shape":"circle","filled":false,"stroke":"#3c3c28","strokeWidth":1,"opacity":0.8},"encoding":{"size":{"field":"r","type":"quantitative","scale":{"type":"pow","exponent":2,"domain":[0,70],"range":[0,48180]},"legend":null}}}]}
]}]}
